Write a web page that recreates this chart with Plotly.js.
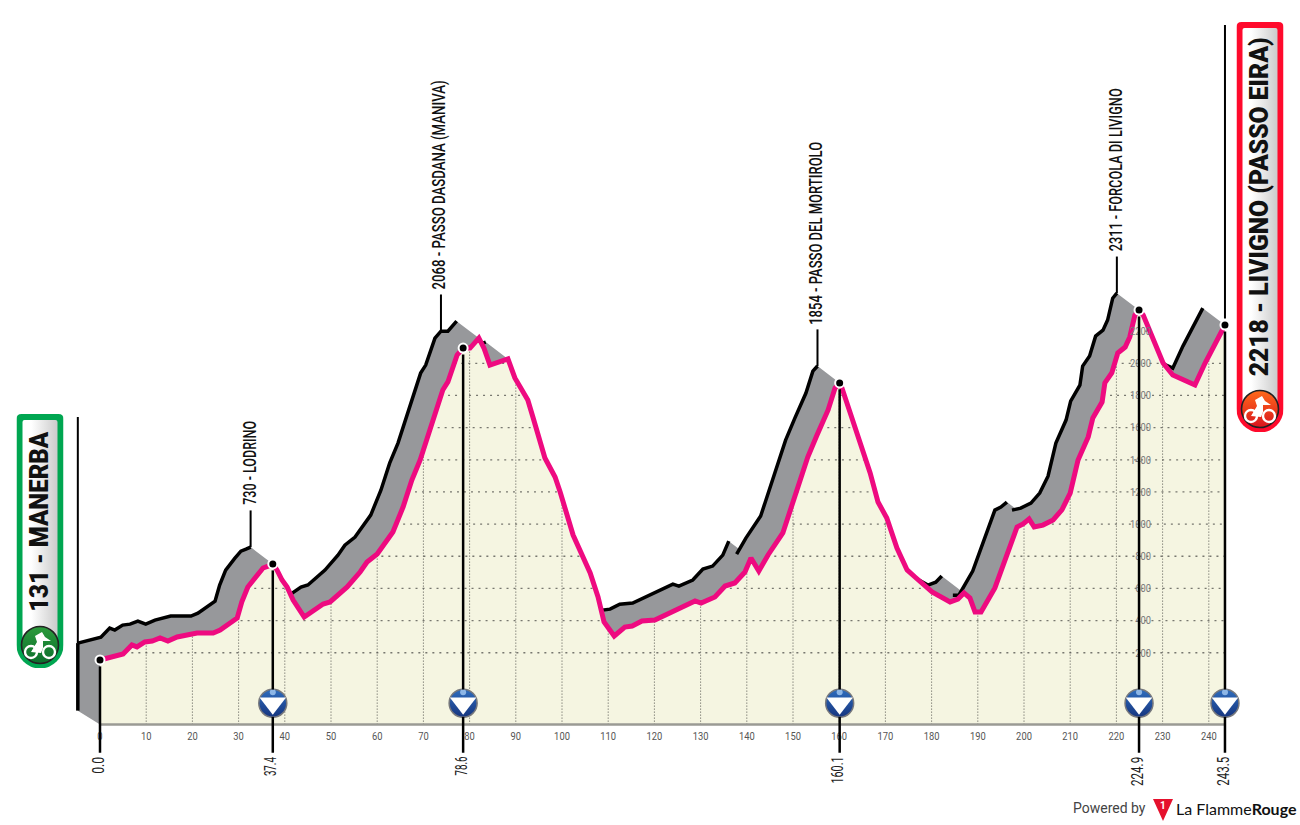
<!DOCTYPE html>
<html>
<head>
<meta charset="utf-8">
<script src="https://cdn.plot.ly/plotly-3.0.1.min.js"></script>
<style>
  html, body { margin: 0; padding: 0; background: #fff; }
  #plot-area { width: 1300px; height: 825px; }
</style>
</head>
<body>
<div id="plot-area"></div>
<script>
// Route profile, km and metres
const routeKm = [0, 5.0, 6.9, 8.0, 9.7, 11.3, 13.0, 14.7, 16.7, 20.1, 21.0, 24.5, 26.0, 29.7, 30.7, 32.0, 34.0, 35.3, 36.4, 37.4,
  38.3, 39.4, 40.5, 41.8, 44.2, 48.3, 49.8, 53.5, 56.3, 57.8, 60.0, 63.4, 65.6, 67.5, 69.3, 71.9, 74.2, 75.3, 77.3, 78.6,
  80.1, 82.0, 83.1, 84.4, 88.3, 89.8, 92.6, 93.7, 96.3, 98.5, 99.6, 102.4, 105.0, 106.1, 107.8, 109.1, 111.3, 113.6, 115.2, 117.3,
  120.1, 125.5, 128.8, 130.1, 133.1, 135.3, 137.4, 139.6, 140.9, 142.6, 144.6, 147.8, 150.0, 153.2, 155.2, 157.6, 159.1, 160.1,
  160.6, 163.9, 164.5, 166.7, 168.4, 170.3, 172.5, 174.7, 176.4, 180.1, 184.0, 185.7, 187.0, 188.3, 189.4, 190.7, 193.7, 196.3,
  198.5, 199.8, 201.1, 202.2, 204.1, 206.3, 208.2, 210.0, 211.7, 213.9, 214.9, 216.9, 217.5, 219.0, 220.3, 221.9, 222.9, 224.0, 224.9,
  225.8, 227.7, 230.1, 232.2, 237.0, 239.2, 243.5];
const routeElev = [155, 192, 248, 236, 267, 273, 292, 273, 298, 323, 323, 323, 341, 416, 516, 609, 683, 727, 739, 752,
  715, 652, 609, 528, 422, 503, 516, 609, 702, 764, 814, 951, 1106, 1274, 1399, 1629, 1834, 1884, 2052, 2095,
  2095, 2157, 2095, 1989, 2027, 1909, 1772, 1666, 1411, 1293, 1200, 932, 777, 696, 547, 391, 304, 360, 366, 397,
  404, 478, 522, 509, 547, 615, 634, 702, 789, 708, 808, 945, 1131, 1417, 1554, 1710, 1846, 1878,
  1846, 1567, 1511, 1318, 1137, 1038, 851, 715, 671, 578, 516, 534, 572, 540, 453, 453, 603, 808,
  982, 1001, 1032, 982, 994, 1026, 1088, 1193, 1399, 1542, 1660, 1759, 1878, 1940, 2064, 2101, 2164, 2300, 2331,
  2300, 2164, 2002, 1927, 1865, 2002, 2238];

const checkpointKm = [0, 37.4, 78.6, 160.1, 224.9, 243.5];
const checkpointLabels = ["0.0", "37.4", "78.6", "160.1", "224.9", "243.5"];
const badgeKm = [37.4, 78.6, 160.1, 224.9, 243.5];

const passKm = [37.4, 78.6, 160.1, 224.9];
const passLabels = ["730 - LODRINO", "2068 - PASSO DASDANA (MANIVA)", "1854 - PASSO DEL MORTIROLO", "2311 - FORCOLA DI LIVIGNO"];

const kmTicks = [0, 10, 20, 30, 40, 50, 60, 70, 80, 90, 100, 110, 120, 130, 140, 150, 160, 170, 180, 190, 200, 210, 220, 230, 240];
const elevTicks = [200, 400, 600, 800, 1000, 1200, 1400, 1600, 1800, 2000, 2200];

const startLabel = "131 - MANERBA";
const finishLabel = "2218 - LIVIGNO (PASSO EIRA)";

const PINK = "#ee0a80", GREY = "#97989b", CREAM = "#f5f5e1", NARROW = "Roboto, sans-serif";

const baseElev = -247;     // the floor of the drawing
const badgeElev = -114;
const shiftKm = 4.8;       // offset of the back edge of the ribbon
const shiftElev = 105;
const lastKm = routeKm[routeKm.length - 1];

// no condensed face is installed, so the narrow labels get squeezed to these widths after drawing
const passLabelPx = [84, 209, 183, 163];
const checkpointLabelPx = [17, 19, 19, 27, 29, 29];
let squeezeTo = {};
passLabels.forEach(function (s, n) { squeezeTo[s] = passLabelPx[n]; });
checkpointLabels.forEach(function (s, n) { squeezeTo[s] = checkpointLabelPx[n]; });
squeezeTo[startLabel] = 180;
squeezeTo[finishLabel] = 339;

function elevAt(km) {
  for (let i = 0; i < routeKm.length - 1; i++) {
    if (km >= routeKm[i] && km <= routeKm[i + 1]) {
      let t = (km - routeKm[i]) / (routeKm[i + 1] - routeKm[i]);
      return routeElev[i] + t * (routeElev[i + 1] - routeElev[i]);
    }
  }
  return routeElev[routeElev.length - 1];
}

// A segment shows its side when it does not fall faster than the ribbon offset
function sideVisible(n) {
  return (routeElev[n + 1] - routeElev[n]) / (routeKm[n + 1] - routeKm[n]) >= -shiftElev / shiftKm;
}

// Grey ribbon: one closed polygon for each run of visible segments
let ribbonX = [], ribbonY = [], edgeX = [], edgeY = [];
let i = 0;
while (i < routeKm.length - 1) {
  if (!sideVisible(i)) { i++; continue; }
  let j = i;
  while (j < routeKm.length - 1 && sideVisible(j)) j++;
  for (let k = i; k <= j; k++) {
    ribbonX.push(routeKm[k] - shiftKm); ribbonY.push(routeElev[k] + shiftElev);
    edgeX.push(routeKm[k] - shiftKm); edgeY.push(routeElev[k] + shiftElev);
  }
  for (let k = j; k >= i; k--) {
    ribbonX.push(routeKm[k]); ribbonY.push(routeElev[k]);
  }
  ribbonX.push(null); ribbonY.push(null);
  edgeX.push(null); edgeY.push(null);
  i = j;
}
// side wall at the start
ribbonX.push(-shiftKm, 0, 0, -shiftKm, null);
ribbonY.push(routeElev[0] + shiftElev, routeElev[0], baseElev, baseElev + 87, null);

// Grid only under the profile
let gridX = [], gridY = [];
elevTicks.forEach(function (level) {
  let open = routeElev[0] >= level ? 0 : null;
  for (let n = 0; n < routeKm.length - 1; n++) {
    let a = routeElev[n], b = routeElev[n + 1];
    if ((a < level) !== (b < level)) {
      let cross = routeKm[n] + (level - a) / (b - a) * (routeKm[n + 1] - routeKm[n]);
      if (open === null) open = cross;
      else { gridX.push(open, cross, null); gridY.push(level, level, null); open = null; }
    }
  }
  if (open !== null) { gridX.push(open, lastKm, null); gridY.push(level, level, null); }
});
let kmGridX = [], kmGridY = [];
kmTicks.slice(1).forEach(function (km) {
  kmGridX.push(km, km, null);
  kmGridY.push(baseElev, elevAt(km), null);
});

let plots = [
  { x: ribbonX, y: ribbonY, mode: "lines", fill: "toself", fillcolor: GREY, line: { width: 0 } },
  { x: edgeX, y: edgeY, mode: "lines", line: { color: "#000", width: 3.5 } },
  { x: [0].concat(routeKm, [lastKm]), y: [baseElev].concat(routeElev, [baseElev]), mode: "lines", fill: "toself", fillcolor: CREAM, line: { width: 0 } },
  { x: gridX, y: gridY, mode: "lines", line: { color: "#77776f", width: 1.3, dash: "2px,5px" } },
  { x: kmGridX, y: kmGridY, mode: "lines", line: { color: "#55554f", width: 1, dash: "1px,2px" } },
  { x: [0, lastKm], y: [baseElev, baseElev], mode: "lines", line: { color: "#9a9a94", width: 2.5 } },
  { x: routeKm, y: routeElev, mode: "lines", line: { color: PINK, width: 5 } },
  { x: checkpointKm, y: checkpointKm.map(elevAt), mode: "markers", marker: { size: 9, color: "#000", line: { color: "#fff", width: 2 } } },
  // blue checkpoint badges
  { x: badgeKm, y: badgeKm.map(function () { return badgeElev; }), mode: "markers",
    marker: { size: 28, color: "#2f6dbd", gradient: { type: "vertical", color: "#16357f" }, line: { color: "#77787c", width: 1.5 } } },
  { x: badgeKm, y: badgeKm.map(function () { return badgeElev; }), mode: "markers", marker: { size: 23, symbol: "triangle-down", color: "#fff" } },
  { x: badgeKm, y: badgeKm.map(function () { return badgeElev + 68; }), mode: "markers", marker: { size: 6, color: "#8db6e6" } }
];

// Vertical black lines, shapes so they sit over the height labels
let shapes = [];
function blackLine(km, from, to, width) {
  shapes.push({ type: "line", layer: "above", xref: "x", yref: "y", x0: km, x1: km, y0: from, y1: to, line: { color: "#000", width: width } });
}
checkpointKm.forEach(function (km) {
  let dot = elevAt(km);
  if (km === 0) { blackLine(km, dot - 40, -422, 2.5); return; }
  blackLine(km, dot - 40, badgeElev + 85, 2.5);
  blackLine(km, badgeElev - 85, -422, 2.5);
});
blackLine(lastKm, elevAt(lastKm) + 40, 4104, 2);
blackLine(-shiftKm, routeElev[0] + shiftElev, baseElev + 87, 3.5);
blackLine(-shiftKm, routeElev[0] + shiftElev, 1666, 2);
passKm.forEach(function (km) {
  blackLine(km - shiftKm, elevAt(km) + shiftElev, elevAt(km) + shiftElev + 228, 2);
});

function svgUri(svg) {
  return "data:image/svg+xml;charset=utf-8," + encodeURIComponent(svg);
}

function bannerSvg(w, h, border, hot, cool) {
  let cx = w / 2, cy = h - 23;
  return svgUri('<svg xmlns="http://www.w3.org/2000/svg" width="' + w + '" height="' + h + '" viewBox="0 0 ' + w + ' ' + h + '">' +
    '<defs><linearGradient id="g" x1="0" x2="1" y1="0" y2="0"><stop offset="0.25" stop-color="#fff"/><stop offset="1" stop-color="#cbcbcb"/></linearGradient>' +
    '<linearGradient id="c" x1="0" x2="0" y1="0" y2="1"><stop offset="0" stop-color="' + hot + '"/><stop offset="1" stop-color="' + cool + '"/></linearGradient></defs>' +
    '<path d="M5 0 H' + (w - 5) + ' Q' + w + ' 0 ' + w + ' 5 V' + (h - 23) + ' A23.5 23.5 0 0 1 0 ' + (h - 23) + ' V5 Q0 0 5 0 Z" fill="' + border + '"/>' +
    '<path d="M8 6 H' + (w - 8) + ' Q' + (w - 6) + ' 6 ' + (w - 6) + ' 8 V' + (h - 23) + ' A17.5 17.5 0 0 1 6 ' + (h - 23) + ' V8 Q6 6 8 6 Z" fill="url(#g)"/>' +
    '<circle cx="' + cx + '" cy="' + cy + '" r="18.5" fill="url(#c)" stroke="#222" stroke-width="1.6"/>' +
    '<g fill="none" stroke="#fff" stroke-width="2.4"><circle cx="' + (cx - 9) + '" cy="' + (cy + 7) + '" r="6"/><circle cx="' + (cx + 9) + '" cy="' + (cy + 7) + '" r="6"/></g>' +
    '<path d="M' + (cx - 9) + ' ' + (cy + 7) + ' L' + (cx - 3) + ' ' + (cy - 3) + ' L' + (cx - 5) + ' ' + (cy - 9) + ' L' + (cx + 2) + ' ' + (cy - 13) + ' L' + (cx + 5) + ' ' + (cy - 8) + ' L' + (cx + 11) + ' ' + (cy - 4) + ' L' + (cx + 3) + ' ' + (cy - 4) + ' L' + (cx + 3) + ' ' + (cy + 3) + ' L' + (cx + 1) + ' ' + (cy + 8) + ' Z" fill="#fff"/>' +
    '</svg>');
}
const logoSvg = svgUri('<svg xmlns="http://www.w3.org/2000/svg" width="20" height="22" viewBox="0 0 20 22"><path d="M0 0 H20 L10 22 Z" fill="#e5112d"/></svg>');

function pictureAt(src, left, top, w, h) {
  return { source: src, xref: "paper", yref: "paper", x: left / 1300, y: 1 - top / 825, sizex: w / 1300, sizey: h / 825, xanchor: "left", yanchor: "top", sizing: "stretch", layer: "above" };
}
let images = [
  pictureAt(bannerSvg(47, 254, "#00a651", "#2c9b3c", "#0a6e2c"), 16.5, 414, 47, 254),
  pictureAt(bannerSvg(47, 410, "#ff0a2c", "#ff6a1a", "#d9141e"), 1236.5, 22, 47, 410),
  pictureAt(logoSvg, 1153, 799, 20, 22)
];

let annotations = [];
passKm.forEach(function (km, n) {
  annotations.push({ xref: "x", yref: "y", x: km - shiftKm, xshift: -1.5, y: elevAt(km) + shiftElev + 228, yshift: 5 + passLabelPx[n] / 2, text: passLabels[n], textangle: -90, showarrow: false,
    xanchor: "center", yanchor: "middle", borderpad: 0, font: { family: NARROW, size: 19, weight: 500, color: "#111" } });
});
checkpointLabels.forEach(function (label, n) {
  annotations.push({ xref: "x", yref: "y", x: checkpointKm[n], xshift: -2, y: -448, yshift: -checkpointLabelPx[n] / 2, text: label, textangle: -90, showarrow: false,
    xanchor: "center", yanchor: "middle", borderpad: 0, font: { family: NARROW, size: 16, color: "#222" } });
});
function pageText(text, px, py, font, angle, anchor) {
  annotations.push({ xref: "paper", yref: "paper", x: px / 1300, y: 1 - py / 825, text: text, textangle: angle, showarrow: false,
    xanchor: anchor, yanchor: "middle", borderpad: 0, font: font });
}
pageText(startLabel, 38.5, 522, { family: "Roboto, sans-serif", size: 25, weight: 900, color: "#111" }, -90, "center");
pageText(finishLabel, 1259, 207.5, { family: "Roboto, sans-serif", size: 25, weight: 900, color: "#111" }, -90, "center");
pageText("Powered by", 1072, 808, { family: "Roboto, sans-serif", size: 14, color: "#444" }, 0, "left");
pageText("La Flamme<b>Rouge</b>", 1175, 808, { family: "Lato, sans-serif", size: 16, color: "#111" }, 0, "left");
pageText("<b>1</b>", 1163, 805, { family: "Roboto, sans-serif", size: 10, color: "#fff" }, 0, "center");

let layout = {
  width: 1300,
  height: 825,
  margin: { l: 0, r: 0, t: 0, b: 0 },
  showlegend: false,
  hovermode: false,
  paper_bgcolor: "#fff",
  plot_bgcolor: "#fff",
  xaxis: {
    range: [-21.645, 259.74], anchor: "free", position: 101 / 825, tickmode: "array", tickvals: kmTicks, ticktext: kmTicks.map(String),
    showgrid: false, zeroline: false, showline: false, ticks: "", ticklabelstandoff: 4,
    tickangle: 0, tickfont: { family: NARROW, size: 11, color: "#555" }
  },
  yaxis: {
    range: [-871.3, 4259.4], anchor: "free", position: 1151 / 1300, tickmode: "array", tickvals: elevTicks, ticktext: elevTicks.map(String),
    showgrid: false, zeroline: false, showline: false, ticks: "",
    tickfont: { family: NARROW, size: 11, color: "#77777a" }
  },
  shapes: shapes,
  images: images,
  annotations: annotations
};

Plotly.newPlot("plot-area", plots, layout, { staticPlot: true, displayModeBar: false }).then(function () {
  document.querySelectorAll("#plot-area .annotation-text").forEach(function (el) {
    let width = squeezeTo[el.textContent];
    if (width) {
      el.setAttribute("textLength", width);
      el.setAttribute("lengthAdjust", "spacingAndGlyphs");
    }
  });
  document.querySelectorAll("#plot-area .xtick text, #plot-area .ytick text").forEach(function (el) {
    el.setAttribute("textLength", el.getComputedTextLength() * 0.85);
    el.setAttribute("lengthAdjust", "spacingAndGlyphs");
  });
});
</script>
</body>
</html>
